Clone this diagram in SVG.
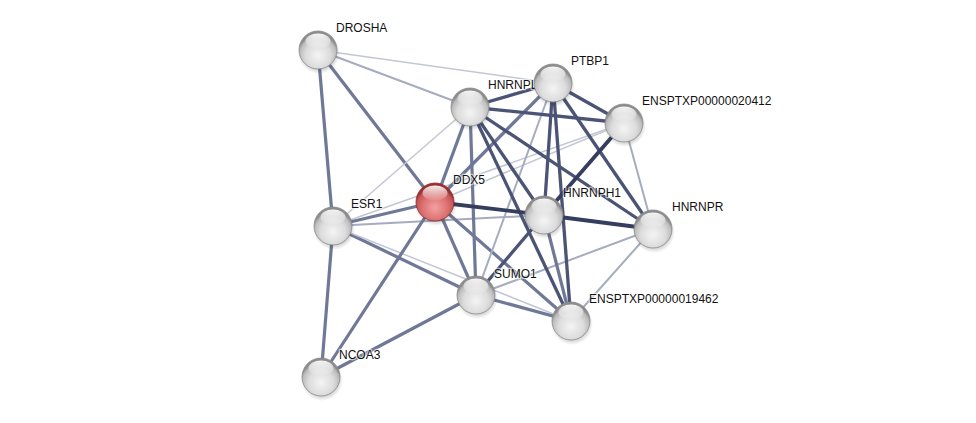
<svg xmlns="http://www.w3.org/2000/svg" width="976" height="423" viewBox="0 0 976 423">
<defs>
<radialGradient id="gGray" cx="50%" cy="65%" r="55%">
<stop offset="0%" stop-color="#f4f4f4"/>
<stop offset="60%" stop-color="#dcdcdc"/>
<stop offset="88%" stop-color="#bcbcbc"/>
<stop offset="100%" stop-color="#8c8c8c"/>
</radialGradient>
<radialGradient id="gRed" cx="50%" cy="65%" r="55%">
<stop offset="0%" stop-color="#f3a0a0"/>
<stop offset="60%" stop-color="#dc7272"/>
<stop offset="88%" stop-color="#c45656"/>
<stop offset="100%" stop-color="#9c3030"/>
</radialGradient>
<linearGradient id="gShine" x1="0" y1="0" x2="0" y2="1">
<stop offset="0%" stop-color="#ffffff" stop-opacity="0.95"/>
<stop offset="100%" stop-color="#ffffff" stop-opacity="0.05"/>
</linearGradient>
<radialGradient id="gShadow" cx="50%" cy="50%" r="50%">
<stop offset="70%" stop-color="#000" stop-opacity="0.22"/>
<stop offset="100%" stop-color="#000" stop-opacity="0"/>
</radialGradient>
</defs>
<style>
.e1{stroke:#c3c7d4;stroke-width:1.5;fill:none}
.e2{stroke:#a6acc0;stroke-width:2;fill:none}
.e3{stroke:#6f7896;stroke-width:3.2;fill:none}
.e4{stroke:#4b5475;stroke-width:3.3;fill:none}
.e5{stroke:#363e5f;stroke-width:3.8;fill:none}
.ball{fill:url(#gGray);stroke:#8a8a8a;stroke-width:0.8}
.ballR{fill:url(#gRed);stroke:#922a2a;stroke-width:0.8}
.shine{fill:url(#gShine)}
.shadow{fill:url(#gShadow)}
text{font-family:"Liberation Sans",Arial,sans-serif;font-size:12px;fill:#111;stroke:#ffffff;stroke-opacity:0.6;stroke-width:2.5;paint-order:stroke;stroke-linejoin:round}
</style>
<rect width="976" height="423" fill="#ffffff"/>
<g id="edges">
<line class="e1" x1="318" y1="50" x2="553" y2="83"/>
<line class="e2" x1="318" y1="50" x2="470" y2="107"/>
<line class="e3" x1="318" y1="50" x2="435" y2="202"/>
<line class="e3" x1="318" y1="50" x2="333" y2="226"/>
<line class="e1" x1="333" y1="226" x2="470" y2="107"/>
<line class="e2" x1="333" y1="226" x2="544" y2="215"/>
<line class="e1" x1="333" y1="226" x2="624" y2="123"/>
<line class="e3" x1="333" y1="226" x2="476" y2="295"/>
<line class="e1" x1="333" y1="226" x2="571" y2="321"/>
<line class="e3" x1="333" y1="226" x2="321" y2="377"/>
<line class="e3" x1="333" y1="226" x2="435" y2="202"/>
<line class="e1" x1="435" y1="202" x2="624" y2="123"/>
<line class="e3" x1="435" y1="202" x2="470" y2="107"/>
<line class="e3" x1="435" y1="202" x2="553" y2="83"/>
<line class="e3" x1="435" y1="202" x2="476" y2="295"/>
<line class="e3" x1="435" y1="202" x2="571" y2="321"/>
<line class="e3" x1="435" y1="202" x2="321" y2="377"/>
<line class="e3" x1="476" y1="295" x2="321" y2="377"/>
<line class="e3" x1="470" y1="107" x2="476" y2="295"/>
<line class="e2" x1="553" y1="83" x2="476" y2="295"/>
<line class="e2" x1="624" y1="123" x2="653" y2="229"/>
<line class="e2" x1="653" y1="229" x2="476" y2="295"/>
<line class="e2" x1="653" y1="229" x2="571" y2="321"/>
<line class="e3" x1="544" y1="215" x2="571" y2="321"/>
<line class="e3" x1="476" y1="295" x2="571" y2="321"/>
<line class="e4" x1="470" y1="107" x2="553" y2="83"/>
<line class="e4" x1="470" y1="107" x2="624" y2="123"/>
<line class="e4" x1="470" y1="107" x2="544" y2="215"/>
<line class="e4" x1="470" y1="107" x2="571" y2="321"/>
<line class="e4" x1="470" y1="107" x2="653" y2="229"/>
<line class="e4" x1="553" y1="83" x2="624" y2="123"/>
<line class="e4" x1="553" y1="83" x2="544" y2="215"/>
<line class="e4" x1="553" y1="83" x2="571" y2="321"/>
<line class="e4" x1="553" y1="83" x2="653" y2="229"/>
<line class="e4" x1="544" y1="215" x2="476" y2="295"/>
<line class="e5" x1="435" y1="202" x2="544" y2="215"/>
<line class="e5" x1="624" y1="123" x2="544" y2="215"/>
<line class="e5" x1="544" y1="215" x2="653" y2="229"/>
</g>
<g id="DROSHA">
<circle class="shadow" cx="319" cy="53" r="21"/>
<circle class="ball" cx="318" cy="50" r="19"/>
<ellipse class="shine" cx="318" cy="41" rx="12.5" ry="7.5"/>
<text x="336" y="32">DROSHA</text>
</g>
<g id="HNRNPL">
<circle class="shadow" cx="471" cy="110" r="21"/>
<circle class="ball" cx="470" cy="107" r="19"/>
<ellipse class="shine" cx="470" cy="98" rx="12.5" ry="7.5"/>
<text x="488" y="89">HNRNPL</text>
</g>
<g id="PTBP1">
<circle class="shadow" cx="554" cy="86" r="21"/>
<circle class="ball" cx="553" cy="83" r="19"/>
<ellipse class="shine" cx="553" cy="74" rx="12.5" ry="7.5"/>
<text x="571" y="65">PTBP1</text>
</g>
<g id="ENSPTXP00000020412">
<circle class="shadow" cx="625" cy="126" r="21"/>
<circle class="ball" cx="624" cy="123" r="19"/>
<ellipse class="shine" cx="624" cy="114" rx="12.5" ry="7.5"/>
<text x="642" y="105">ENSPTXP00000020412</text>
</g>
<g id="ESR1">
<circle class="shadow" cx="334" cy="229" r="21"/>
<circle class="ball" cx="333" cy="226" r="19"/>
<ellipse class="shine" cx="333" cy="217" rx="12.5" ry="7.5"/>
<text x="351" y="208">ESR1</text>
</g>
<g id="DDX5">
<circle class="shadow" cx="436" cy="205" r="21"/>
<circle class="ballR" cx="435" cy="202" r="19"/>
<ellipse class="shine" cx="435" cy="193" rx="12.5" ry="7.5"/>
<text x="453" y="184">DDX5</text>
</g>
<g id="HNRNPH1">
<circle class="shadow" cx="545" cy="218" r="21"/>
<circle class="ball" cx="544" cy="215" r="19"/>
<ellipse class="shine" cx="544" cy="206" rx="12.5" ry="7.5"/>
<text x="563" y="197">HNRNPH1</text>
</g>
<g id="HNRNPR">
<circle class="shadow" cx="654" cy="232" r="21"/>
<circle class="ball" cx="653" cy="229" r="19"/>
<ellipse class="shine" cx="653" cy="220" rx="12.5" ry="7.5"/>
<text x="672" y="211">HNRNPR</text>
</g>
<g id="SUMO1">
<circle class="shadow" cx="477" cy="298" r="21"/>
<circle class="ball" cx="476" cy="295" r="19"/>
<ellipse class="shine" cx="476" cy="286" rx="12.5" ry="7.5"/>
<text x="494" y="278">SUMO1</text>
</g>
<g id="ENSPTXP00000019462">
<circle class="shadow" cx="572" cy="324" r="21"/>
<circle class="ball" cx="571" cy="321" r="19"/>
<ellipse class="shine" cx="571" cy="312" rx="12.5" ry="7.5"/>
<text x="589" y="303">ENSPTXP00000019462</text>
</g>
<g id="NCOA3">
<circle class="shadow" cx="322" cy="380" r="21"/>
<circle class="ball" cx="321" cy="377" r="19"/>
<ellipse class="shine" cx="321" cy="368" rx="12.5" ry="7.5"/>
<text x="339" y="359">NCOA3</text>
</g>
</svg>
